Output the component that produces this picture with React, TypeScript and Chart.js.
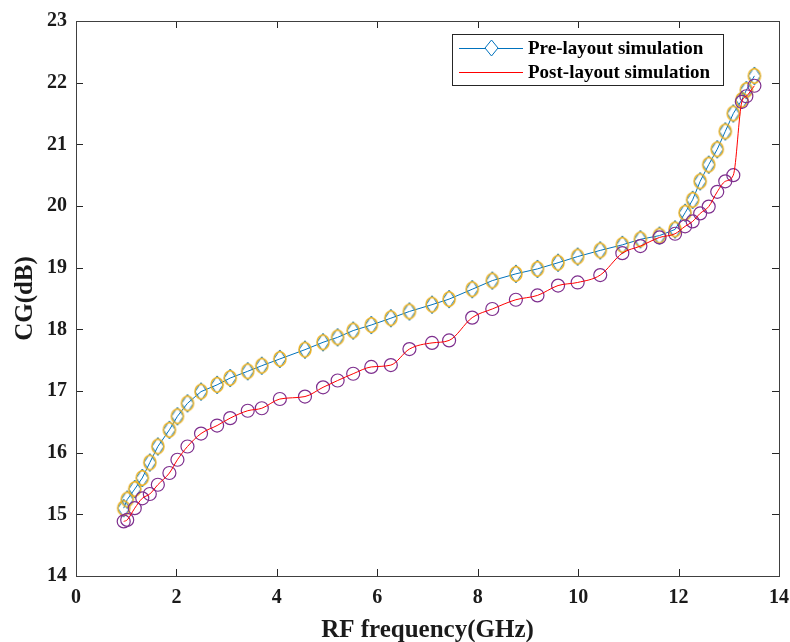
import { useEffect, useRef } from 'react';
import { Chart, registerables } from 'chart.js';

Chart.register(...registerables);

const frequencyGHz = [0.95, 1.02, 1.17, 1.32, 1.47, 1.63, 1.86, 2.02, 2.22, 2.49, 2.81, 3.07, 3.42, 3.70, 4.06, 4.56, 4.92, 5.21, 5.52, 5.88, 6.27, 6.64, 7.09, 7.43, 7.89, 8.29, 8.76, 9.19, 9.60, 9.99, 10.44, 10.88, 11.24, 11.62, 11.93, 12.13, 12.28, 12.43, 12.60, 12.77, 12.93, 13.09, 13.26, 13.35, 13.51];
const preLayoutCG = [15.10, 15.24, 15.41, 15.59, 15.84, 16.10, 16.37, 16.59, 16.80, 16.99, 17.10, 17.21, 17.32, 17.41, 17.52, 17.67, 17.79, 17.87, 17.98, 18.07, 18.18, 18.29, 18.40, 18.49, 18.65, 18.79, 18.90, 18.98, 19.08, 19.18, 19.28, 19.37, 19.46, 19.52, 19.62, 19.89, 20.10, 20.40, 20.67, 20.92, 21.21, 21.50, 21.72, 21.88, 22.11];
const postLayoutCG = [14.885, 14.91, 15.10, 15.26, 15.33, 15.48, 15.67, 15.885, 16.10, 16.31, 16.44, 16.56, 16.68, 16.72, 16.87, 16.91, 17.06, 17.17, 17.28, 17.39, 17.42, 17.68, 17.78, 17.82, 18.19, 18.33, 18.48, 18.55, 18.71, 18.76, 18.88, 19.235, 19.35, 19.49, 19.55, 19.67, 19.75, 19.88, 19.99, 20.23, 20.40, 20.50, 21.69, 21.78, 21.95];
const xTickValues = [0, 2, 4, 6, 8, 10, 12, 14];
const yTickValues = [14, 15, 16, 17, 18, 19, 20, 21, 22, 23];
const seriesLabels = ['Pre-layout simulation', 'Post-layout simulation'];
const xAxisTitle = 'RF frequency(GHz)';
const yAxisTitle = 'CG(dB)';

const FONT = "'Liberation Serif', 'Times New Roman', serif";
const AXIS_COLOR = '#262626';
const BLUE = '#0072BD';
const ORANGE = '#EDB120';
const RED = '#FF0000';
const PURPLE = '#7E2F8E';

function makePreMarker(): HTMLCanvasElement {
  const c = document.createElement('canvas');
  c.width = 16;
  c.height = 22;
  const g = c.getContext('2d')!;
  const cx = 8, cy = 11;
  g.strokeStyle = BLUE;
  g.lineWidth = 1;
  g.beginPath();
  g.moveTo(cx, cy - 9);
  g.lineTo(cx + 6, cy);
  g.lineTo(cx, cy + 9);
  g.lineTo(cx - 6, cy);
  g.closePath();
  g.stroke();
  g.strokeStyle = ORANGE;
  g.lineWidth = 1.4;
  g.beginPath();
  g.moveTo(cx, cy - 7.5);
  g.bezierCurveTo(cx + 8, cy - 5, cx + 8, cy + 5, cx, cy + 7.5);
  g.bezierCurveTo(cx - 8, cy + 5, cx - 8, cy - 5, cx, cy - 7.5);
  g.closePath();
  g.stroke();
  return c;
}

const framePlugin = {
  id: 'frame',
  beforeDatasetsDraw(chart: any) {
    const { ctx, chartArea: a, scales } = chart;
    ctx.save();
    ctx.strokeStyle = AXIS_COLOR;
    ctx.lineWidth = 1;
    const tl = 7;
    ctx.beginPath();
    for (const v of xTickValues) {
      const px = Math.round(scales.x.getPixelForValue(v)) + 0.5;
      ctx.moveTo(px, a.bottom);
      ctx.lineTo(px, a.bottom - tl);
      ctx.moveTo(px, a.top);
      ctx.lineTo(px, a.top + tl);
    }
    for (const v of yTickValues) {
      const py = Math.round(scales.y.getPixelForValue(v)) + 0.5;
      ctx.moveTo(a.left, py);
      ctx.lineTo(a.left + tl, py);
      ctx.moveTo(a.right, py);
      ctx.lineTo(a.right - tl, py);
    }
    ctx.stroke();
    ctx.strokeStyle = '#404040';
    ctx.strokeRect(Math.round(a.left) + 0.5, Math.round(a.top) + 0.5, Math.round(a.right - a.left), Math.round(a.bottom - a.top));
    ctx.restore();
  },
};

const legendPlugin = {
  id: 'customLegend',
  afterDraw(chart: any) {
    const { ctx } = chart;
    const x0 = 452, y0 = 34, w = 271, h = 51;
    ctx.save();
    ctx.fillStyle = '#ffffff';
    ctx.fillRect(x0, y0, w, h);
    ctx.strokeStyle = '#262626';
    ctx.lineWidth = 1;
    ctx.strokeRect(x0 + 0.5, y0 + 0.5, w, h);
    const rows = [48, 72];
    ctx.strokeStyle = BLUE;
    ctx.beginPath();
    ctx.moveTo(459, rows[0] + 0.5);
    ctx.lineTo(523, rows[0] + 0.5);
    ctx.stroke();
    ctx.fillStyle = '#ffffff';
    ctx.beginPath();
    ctx.moveTo(491.5, rows[0] - 8);
    ctx.lineTo(498, rows[0]);
    ctx.lineTo(491.5, rows[0] + 8);
    ctx.lineTo(485, rows[0]);
    ctx.closePath();
    ctx.fill();
    ctx.stroke();
    ctx.strokeStyle = RED;
    ctx.beginPath();
    ctx.moveTo(459, rows[1] + 0.5);
    ctx.lineTo(523, rows[1] + 0.5);
    ctx.stroke();
    ctx.fillStyle = '#000000';
    ctx.font = `bold 19px ${FONT}`;
    ctx.textBaseline = 'middle';
    ctx.textAlign = 'left';
    ctx.fillText(seriesLabels[0], 528, rows[0] + 1);
    ctx.fillText(seriesLabels[1], 528, rows[1] + 1);
    ctx.restore();
  },
};

export default function App() {
  const ref = useRef<HTMLCanvasElement | null>(null);
  useEffect(() => {
    if (!ref.current) return;
    const marker = makePreMarker();
    const pre = frequencyGHz.map((x, i) => ({ x, y: preLayoutCG[i] }));
    const post = frequencyGHz.map((x, i) => ({ x, y: postLayoutCG[i] }));
    const chart = new Chart(ref.current, {
      type: 'line',
      data: {
        datasets: [
          {
            label: seriesLabels[1],
            data: post,
            borderColor: RED,
            borderWidth: 1,
            pointRadius: 0,
            cubicInterpolationMode: 'monotone',
            fill: false,
          },
          {
            label: 'post markers',
            data: post,
            showLine: false,
            pointStyle: 'circle',
            pointRadius: 6.5,
            pointBorderColor: PURPLE,
            pointBackgroundColor: 'rgba(0,0,0,0)',
            pointBorderWidth: 1.2,
          },
          {
            label: seriesLabels[0],
            data: pre,
            borderColor: BLUE,
            borderWidth: 1,
            pointStyle: marker as any,
            pointRadius: 8,
            fill: false,
          },
        ],
      } as any,
      options: {
        animation: false,
        responsive: false,
        devicePixelRatio: 1,
        layout: { padding: { top: 21, right: 11, left: 0, bottom: 0 } },
        plugins: { legend: { display: false }, tooltip: { enabled: false } },
        scales: {
          x: {
            type: 'linear',
            min: 0,
            max: 14,
            grid: { display: false, drawTicks: false },
            border: { display: false },
            afterBuildTicks: (s: any) => { s.ticks = xTickValues.map((v) => ({ value: v })); },
            afterFit: (s: any) => { s.height = 66; s.paddingLeft = 0; s.paddingRight = 0; },
            ticks: { padding: 10, color: '#1a1a1a', font: { family: FONT, weight: 'bold', size: 20 }, maxRotation: 0 },
            title: { display: true, text: xAxisTitle, color: '#1a1a1a', font: { family: FONT, weight: 'bold', size: 25, lineHeight: 1 }, padding: { top: 0, bottom: -1 } },
          },
          y: {
            type: 'linear',
            min: 14,
            max: 23,
            grid: { display: false, drawTicks: false },
            border: { display: false },
            afterBuildTicks: (s: any) => { s.ticks = yTickValues.map((v) => ({ value: v })); },
            afterFit: (s: any) => { s.width = 76; s.paddingTop = 0; s.paddingBottom = 0; },
            ticks: { padding: 9, color: '#1a1a1a', font: { family: FONT, weight: 'bold', size: 20 } },
            title: { display: true, text: yAxisTitle, color: '#1a1a1a', font: { family: FONT, weight: 'bold', size: 25, lineHeight: 1 }, padding: { top: 13, bottom: 0 } },
          },
        },
      } as any,
      plugins: [framePlugin, legendPlugin],
    });
    return () => chart.destroy();
  }, []);
  return (
    <div style={{ position: 'absolute', left: 0, top: 0, width: 790, height: 642, background: '#fff' }}>
      <canvas ref={ref} width={790} height={642} style={{ display: 'block' }} />
    </div>
  );
}
